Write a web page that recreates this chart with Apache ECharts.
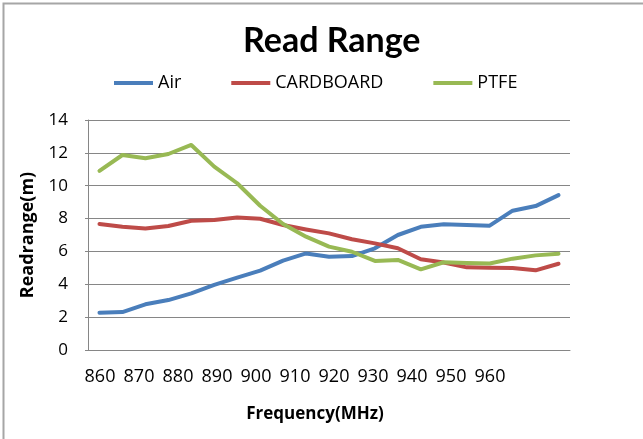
<!DOCTYPE html>
<html>
<head>
<meta charset="utf-8">
<script src="https://cdn.jsdelivr.net/npm/echarts@6/dist/echarts.min.js"></script>
<style>
html, body { margin: 0; padding: 0; background: #fff; }
#chart { width: 643px; height: 439px; }
</style>
</head>
<body>
<div id="chart"></div>
<script>
// frequency points (MHz), the measured series and the printed axis labels
const freqs = ['860','865','870','875','880','885','890','895','900','905','910',
               '915','920','925','930','935','940','945','950','955','960']
const airRange = [2.27,2.31,2.78,3.04,3.45,3.96,4.4,4.83,5.44,5.88,5.68,
                  5.72,6.19,7.0,7.5,7.65,7.61,7.57,8.48,8.76,9.43]
const cardboardRange = [7.67,7.5,7.4,7.55,7.87,7.91,8.07,7.99,7.61,7.34,7.1,
                        6.74,6.49,6.19,5.52,5.32,5.03,5.01,4.99,4.85,5.25]
const ptfeRange = [10.9,11.87,11.67,11.93,12.48,11.16,10.15,8.78,7.67,6.9,6.29,
                   5.98,5.42,5.48,4.91,5.34,5.29,5.27,5.56,5.76,5.86]
const freqTicks = [860,870,880,890,900,910,920,930,940,950,960]

const FONT = '"Open Sans", "Noto Sans", sans-serif'
const GRID_COLOR = '#868686'

var dom = document.getElementById('chart')
var chart = echarts.init(dom, null, { renderer: 'canvas' })

function lineSeries(name, data, color) {
    return {
        name: name,
        type: 'line',
        data: data,
        symbol: 'none',
        smooth: false,
        xAxisIndex: 0,
        lineStyle: { width: 4, color: color, join: 'round', cap: 'round' },
        itemStyle: { color: color }
    }
}

var option = {
    backgroundColor: '#fff',
    animation: false,
    textStyle: { fontFamily: FONT, color: '#000' },
    title: {
        text: 'Read Range',
        left: 243,
        top: 24,
        padding: 0,
        textStyle: {
            fontFamily: 'Lato, "Open Sans", sans-serif',
            fontWeight: 'bold',
            fontSize: 34,
            color: '#000'
        }
    },
    legend: {
        left: 114,
        top: 74,
        padding: 0,
        // plain bar icon, like the excel legend
        icon: 'path://M0,0 L39,0 L39,4 L0,4 Z',
        itemWidth: 39,
        itemHeight: 4,
        itemGap: 50,
        textStyle: { fontFamily: FONT, fontSize: 18, color: '#000' },
        data: ['Air', 'CARDBOARD', 'PTFE']
    },
    grid: {
        left: 88,
        right: 73,
        top: 120,
        bottom: 89,
        containLabel: false,
        outerBoundsMode: 'none'
    },
    xAxis: [
        {
            type: 'category',
            position: 'bottom',
            data: freqs,
            boundaryGap: true,
            axisLine: { show: true, lineStyle: { color: GRID_COLOR, width: 1 } },
            axisTick: { show: false },
            axisLabel: { show: false },
            splitLine: { show: false }
        },
        {
            // printed frequency labels, they don't line up with the points
            type: 'value',
            position: 'bottom',
            min: 856.92,
            max: 980.51,
            axisLine: { show: false },
            axisTick: { show: false },
            splitLine: { show: false },
            axisLabel: {
                customValues: freqTicks,
                margin: 18,
                fontSize: 18,
                fontFamily: FONT,
                color: '#000'
            },
            name: 'Frequency(MHz)',
            nameLocation: 'middle',
            nameGap: 56,
            nameTextStyle: {
                fontFamily: FONT,
                fontWeight: 'bold',
                fontSize: 17,
                color: '#000',
                padding: [0, 28, 0, 0]
            }
        }
    ],
    yAxis: {
        type: 'value',
        min: 0,
        max: 14,
        interval: 2,
        axisLine: { show: true, lineStyle: { color: GRID_COLOR, width: 1 } },
        axisTick: { show: true, length: 3, lineStyle: { color: GRID_COLOR } },
        splitLine: { show: true, lineStyle: { color: GRID_COLOR, width: 1 } },
        axisLabel: { margin: 20, fontSize: 17, fontFamily: FONT, color: '#000' },
        name: 'Readrange(m)',
        nameLocation: 'middle',
        nameRotate: 90,
        nameGap: 51,
        nameTextStyle: { fontFamily: FONT, fontWeight: 'bold', fontSize: 18, color: '#000' }
    },
    graphic: [
        {
            type: 'rect',
            silent: true,
            shape: { x: 3.5, y: 3.5, width: 700, height: 500 },
            style: { fill: null, stroke: '#a6a6a6', lineWidth: 2 }
        }
    ],
    series: [
        lineSeries('Air', airRange, '#4A7EBB'),
        lineSeries('CARDBOARD', cardboardRange, '#BE4B48'),
        lineSeries('PTFE', ptfeRange, '#98B954')
    ]
}

chart.setOption(option)
</script>
</body>
</html>
